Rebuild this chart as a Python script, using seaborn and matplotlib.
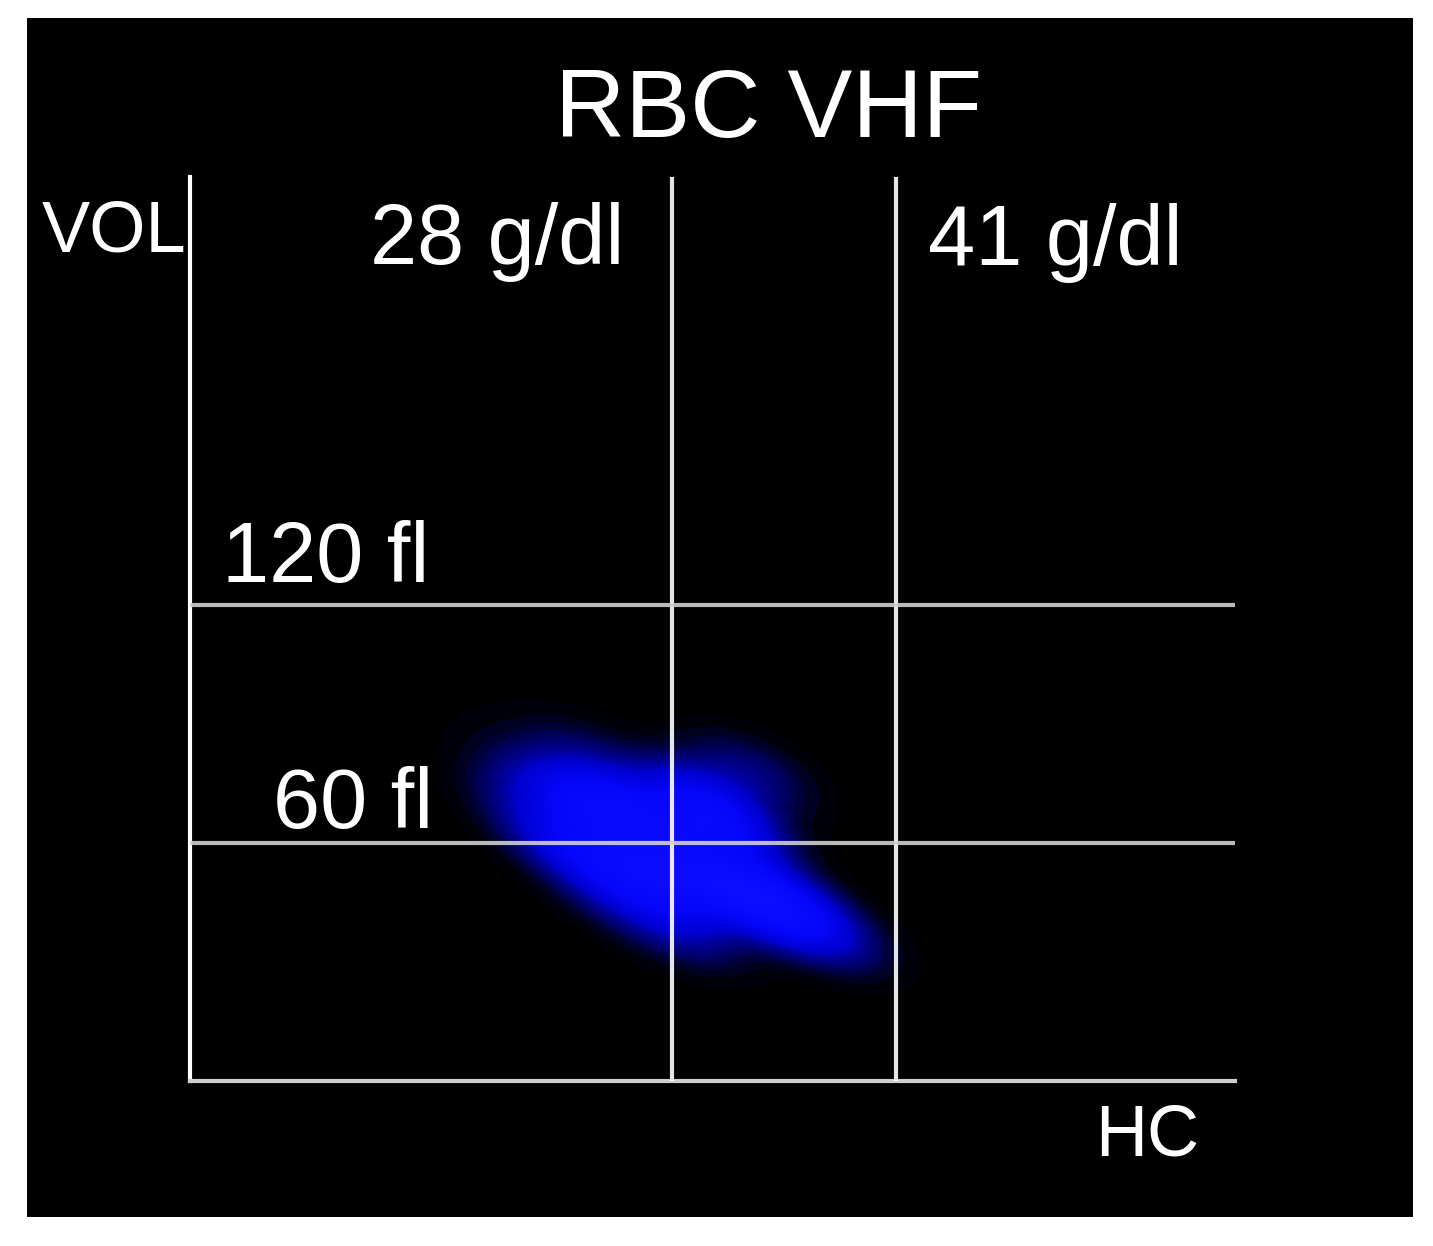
import numpy as np
import pandas as pd
import matplotlib
matplotlib.use("Agg")
import matplotlib.pyplot as plt
from matplotlib.patches import Rectangle
from matplotlib.colors import LinearSegmentedColormap
import seaborn as sns

# ---- data ----
# anchor points of the RBC cloud: haemoglobin concentration (g/dl), volume (fl), relative density
hc_vals  = [21.5, 24.4, 26.1, 29.6, 30.8, 27.3, 30.8, 33.7, 35.4, 23.8, 21.5, 19.2, 37.8, 32.5, 18.0, 28.5, 22.7, 25.0]
vol_vals = [73.0, 71.0, 63.0, 71.0, 63.0, 50.0, 50.0, 45.5, 40.5, 55.5, 61.0, 71.0, 35.5, 78.0, 86.0, 38.0, 83.5, 45.6]
density  = [0.55, 0.75, 0.90, 0.85, 0.90, 1.00, 1.00, 1.00, 0.70, 0.70, 0.50, 0.20, 0.15, 0.35, 0.05, 0.40, 0.20, 0.30]

hc_thresholds = [28, 41]          # g/dl
vol_thresholds = [60, 120]        # fl
hc_labels = ["28 g/dl", "41 g/dl"]
vol_labels = ["120 fl", "60 fl"]
title = "RBC VHF"
x_name = "HC"
y_name = "VOL"

df = pd.DataFrame({"HC": hc_vals, "VOL": vol_vals, "w": density})

# ---- figure ----
W, H = 1433, 1246
fig = plt.figure(figsize=(W / 100, H / 100), dpi=100, facecolor="white")
bg = Rectangle((27 / W, 1 - 1217 / H), (1413 - 27) / W, (1217 - 18) / H,
               transform=fig.transFigure, facecolor="black", edgecolor="none", zorder=-10)
fig.patches.append(bg)

ax = fig.add_axes([190 / W, 1 - 1081 / H, (1235 - 190) / W, (1081 - 177) / H])
ax.set_zorder(5)
ax.set_facecolor("black")

cmap = LinearSegmentedColormap.from_list(
    "rbc", [(0.0, (0.0, 0.0, 0.0)), (0.12, (0.0, 0.0, 0.4)), (0.3, (0.0, 0.0, 0.82)),
            (0.55, (0.02, 0.02, 0.98)), (1.0, (0.05, 0.05, 1.0))])
sns.kdeplot(data=df, x="HC", y="VOL", weights="w", fill=True, levels=60, thresh=0.01,
            cmap=cmap, bw_method=0.55, ax=ax, zorder=1)

ax.set_xlim(0, 60.7)
ax.set_ylim(0, 227.9)

for v in hc_thresholds:
    ax.axvline(v, color="white", lw=3, alpha=0.9, zorder=3)
for v in vol_thresholds:
    ax.axhline(v, color="#d0d0d0", lw=3, alpha=0.9, zorder=3)

for s in ["top", "right"]:
    ax.spines[s].set_visible(False)
ax.spines["left"].set_color("white")
ax.spines["left"].set_linewidth(3)
ax.spines["bottom"].set_color("#cfcfcf")
ax.spines["bottom"].set_linewidth(3)
ax.set_xticks([])
ax.set_yticks([])
ax.set_xlabel("")
ax.set_ylabel("")

font = "Liberation Sans"
def ftext(x, y, s, size, ha="left"):
    fig.text(x / W, 1 - y / H, s, color="white", fontsize=size, family=font, ha=ha, va="baseline", zorder=10)

ftext(769, 137, title, 70, ha="center")
ftext(42, 251, y_name, 52)
ftext(1095, 1156, x_name, 52)
ftext(370, 264, hc_labels[0], 61)
ftext(928, 265, hc_labels[1], 61)
ftext(222, 582, vol_labels[0], 61)
ftext(273, 828, vol_labels[1], 61)

fig.savefig("out.png", dpi=100, facecolor="white")
